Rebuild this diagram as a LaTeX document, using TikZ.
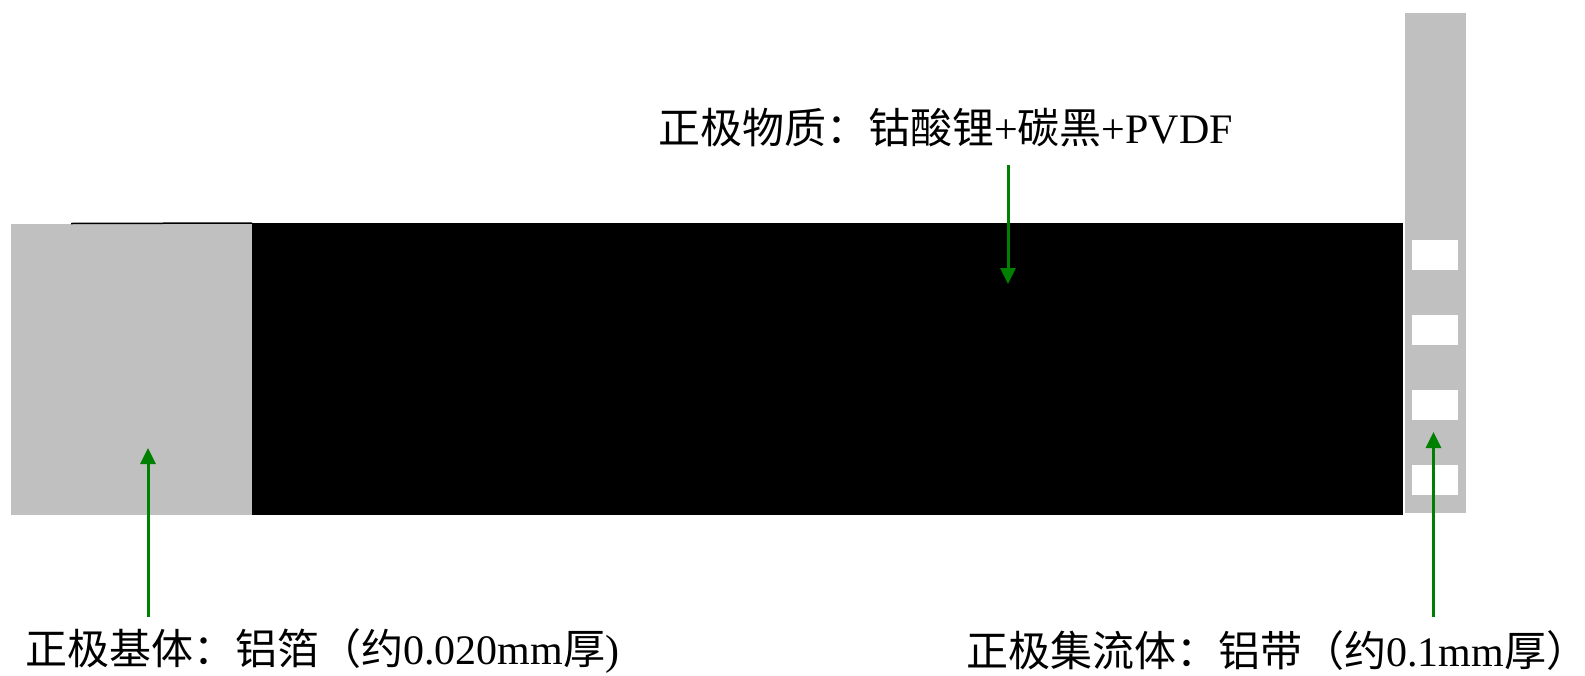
\documentclass[tikz,border=0pt]{standalone}
\usepackage{fontspec}
\setmainfont{Liberation Serif}
\newfontfamily\cjk{Noto Sans CJK SC}
\usetikzlibrary{arrows.meta}
\definecolor{foil}{HTML}{C0C0C0}
\definecolor{arrowgreen}{HTML}{008000}
\begin{document}
\begin{tikzpicture}[x=1pt,y=-1pt,
  box/.style={draw=none,inner sep=0pt,outer sep=0pt,anchor=north west},
  hole/.style={box,fill=white,minimum width=46pt,minimum height=30pt},
  ptr/.style={arrowgreen,line width=3pt,-{Triangle[length=16pt,width=15pt]}},
  lbl/.style={inner sep=0pt,anchor=west,font=\fontsize{42}{50}\selectfont}]
\useasboundingbox (0,0) rectangle (1585,675);
% foil and coating
\node[box,fill=foil,minimum width=241pt,minimum height=291pt] (base) at (11,224) {};
\node[box,fill=black,minimum width=1151pt,minimum height=292pt] (coat) at (252,223) {};
\draw[line width=1.5pt] (71,223.5) -- (coat.north west);
% tab
\node[box,fill=foil,minimum width=61pt,minimum height=500pt] (tab) at (1405,13) {};
\node[hole] (h1) at (1412,240) {};
\node[hole] (h2) at (1412,315) {};
\node[hole] (h3) at (1412,390) {};
\node[hole] (h4) at (1412,465) {};
% labels
\node[lbl] (ltop) at (658,128) {{\cjk 正极物质：钴酸锂}+{\cjk 碳黑}+PVDF};
\node[lbl] (lleft) at (25,651) {{\cjk 正极基体：铝箔（约}0.020mm{\cjk 厚})};
\node[lbl] (lright) at (966,651) {{\cjk 正极集流体：铝带（约}0.1mm{\cjk 厚）}};
% arrows
\coordinate (ttop) at (1008,165);
\coordinate (tcoat) at (1008,284);
\coordinate (tleft) at (148,617);
\coordinate (tbase) at (148,448);
\coordinate (tright) at (1433.5,617);
\coordinate (ttab) at (1433.5,432);
\draw[ptr] (ttop) -- (tcoat);
\draw[ptr] (tleft) -- (tbase);
\draw[ptr] (tright) -- (ttab);
\end{tikzpicture}
\end{document}
